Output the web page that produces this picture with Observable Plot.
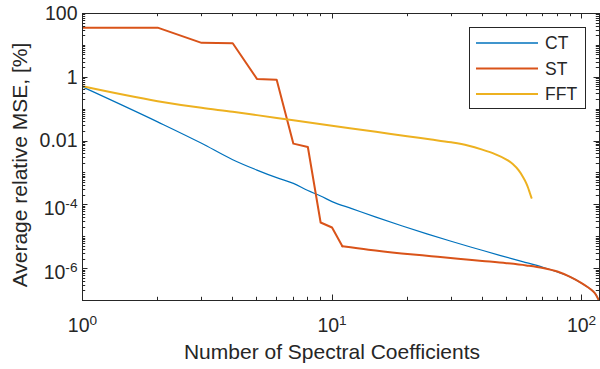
<!DOCTYPE html>
<html><head><meta charset="utf-8">
<script src="https://cdn.jsdelivr.net/npm/d3@7"></script>
<script src="https://cdn.jsdelivr.net/npm/@observablehq/plot@0.6"></script>
<style>html,body{margin:0;padding:0;background:#fff;}</style>
</head><body><div id="chart"></div>
<script>
// ---- data ----
const seriesNames = ["CT", "ST", "FFT"];
const seriesColors = ["#0072BD", "#D95319", "#EDB120"];

const ctX = [1,2,3,4,5,6,7,8,9,10,12,15,19,24,30,38,47,58,70,80,90,100,106,110,114,117];
const ctY = [0.50,0.040,0.0085,0.0026,0.00123,7.1e-4,4.7e-4,2.8e-4,1.9e-4,1.26e-4,7.6e-5,4.1e-5,2.2e-5,1.23e-5,7.2e-6,4.2e-6,2.6e-6,1.66e-6,1.10e-6,7.8e-7,5.5e-7,3.5e-7,2.6e-7,2.1e-7,1.55e-7,1.05e-7];

// ST: stepwise part (linear joins) and smooth tail
const stX = [1,2,3,4,5,6,7,8,9,10,11,14,19,25,32,40,50,60,70,80,90,100,106,110,114,117];
const stY = [36,36,12,11.7,0.89,0.83,0.0083,0.0065,2.8e-5,1.95e-5,5.0e-6,3.9e-6,3.0e-6,2.45e-6,2.04e-6,1.74e-6,1.48e-6,1.26e-6,1.05e-6,8.1e-7,5.5e-7,3.5e-7,2.6e-7,2.1e-7,1.55e-7,1.05e-7];

const fftX = [1,2,3,4,5,7,10,15,20,25,30,35,40,45,50,53,56,58,60,61,62,63];
const fftY = [0.52,0.178,0.11,0.083,0.065,0.0447,0.0302,0.0195,0.0141,0.0112,0.00912,0.00724,0.00537,0.00389,0.00263,0.00191,0.00120,7.9e-4,4.8e-4,3.5e-4,2.4e-4,1.66e-4];

const xTicks = [1, 10, 100];
const xTickLabels = ["10^0", "10^1", "10^2"];
const xMinorTicks = [2,3,4,5,6,7,8,9,20,30,40,50,60,70,80,90];
const yTicks = [100, 1, 0.01, 1e-4, 1e-6];
const yTickLabels = ["100", "1", "0.01", "10^-4", "10^-6"];
const yMinorTicks = [];
for (let k = -7; k <= 1; k++) for (let m = 1; m <= 9; m++) {
  const v = +(m + "e" + k);
  if (v >= 1e-7 && v < 100 && !yTicks.includes(v)) yMinorTicks.push(v);
}
const xLabel = "Number of Spectral Coefficients";
const yLabel = "Average relative MSE, [%]";

const toRows = (xs, ys) => xs.map((x, i) => ({x, y: ys[i]}));
const ctRows = toRows(ctX, ctY);
const stRows = toRows(stX, stY);
const fftRows = toRows(fftX, fftY);

const ink = "#262626";
const font = "'Liberation Sans', Arial, Helvetica, sans-serif";

const W = 600, H = 369, mL = 82, mR = 1, mT = 13, mB = 69;

const chart = Plot.plot({
  width: W, height: H,
  marginLeft: mL, marginRight: mR, marginTop: mT, marginBottom: mB,
  style: {fontFamily: font, fontSize: "19.5px", color: ink, background: "#fff", overflow: "visible"},
  x: {type: "log", domain: [1, 118]},
  y: {type: "log", domain: [1e-7, 100]},
  marks: [
    Plot.axisX({ticks: xTicks, tickFormat: d => xTickLabels[xTicks.indexOf(d)], tickSize: 0, tickPadding: 18, label: null, anchor: "bottom"}),
    Plot.axisY({ticks: yTicks, tickFormat: d => yTickLabels[yTicks.indexOf(d)], tickSize: 0, tickPadding: 5, label: null, anchor: "left"}),
    Plot.line(ctRows, {x: "x", y: "y", stroke: seriesColors[0], strokeWidth: 1.2, curve: "monotone-x", clip: true}),
    Plot.line(stRows.filter(d => d.x <= 11), {x: "x", y: "y", stroke: seriesColors[1], strokeWidth: 2, clip: true}),
    Plot.line(stRows.filter(d => d.x >= 11), {x: "x", y: "y", stroke: seriesColors[1], strokeWidth: 2, curve: "monotone-x", clip: true}),
    Plot.line(fftRows, {x: "x", y: "y", stroke: seriesColors[2], strokeWidth: 2, curve: "monotone-x", clip: true}),
    Plot.frame({stroke: ink, strokeWidth: 1})
  ]
});

const svg = d3.select(chart);
const sx = chart.scale("x"), sy = chart.scale("y");
const x0 = mL, x1 = W - mR, y0 = mT, y1 = H - mB;

// superscripts in tick labels
svg.selectAll('g[aria-label="x-axis tick label"] text, g[aria-label="y-axis tick label"] text').each(function() {
  const s = this.textContent; const k = s.indexOf("^");
  if (k < 0) return;
  const isY = this.parentNode.getAttribute("aria-label").startsWith("y");
  const t = d3.select(this); t.text(null);
  t.append("tspan").attr("dy", isY ? "0.22em" : null).text(s.slice(0, k));
  t.append("tspan").attr("dy", "-0.55em").attr("font-size", "70%").text(s.slice(k + 1));
});

// inward ticks on all four sides (box on)
const tg = svg.append("g").attr("stroke", ink).attr("stroke-width", 1);
const tickX = (vals, len) => vals.forEach(v => {
  const px = Math.round(sx.apply(v)) + 0.5;
  tg.append("line").attr("x1", px).attr("x2", px).attr("y1", y1).attr("y2", y1 - len);
  tg.append("line").attr("x1", px).attr("x2", px).attr("y1", y0).attr("y2", y0 + len);
});
const tickY = (vals, len) => vals.forEach(v => {
  const py = Math.round(sy.apply(v)) + 0.5;
  tg.append("line").attr("y1", py).attr("y2", py).attr("x1", x0).attr("x2", x0 + len);
  tg.append("line").attr("y1", py).attr("y2", py).attr("x1", x1).attr("x2", x1 - len);
});
tickX(xTicks, 5.5); tickX(xMinorTicks, 3.2);
tickY(yTicks, 5.5); tickY(yMinorTicks, 3.2);

// axis labels
svg.append("text").attr("x", 332).attr("y", 359).attr("text-anchor", "middle")
  .attr("fill", ink).style("font-size", "21px").text(xLabel);
svg.append("text").attr("transform", "translate(27,165) rotate(-90)").attr("text-anchor", "middle")
  .attr("fill", ink).style("font-size", "21px").text(yLabel);

// legend
const lg = svg.append("g");
lg.append("rect").attr("x", 469.5).attr("y", 27.5).attr("width", 116).attr("height", 81)
  .attr("fill", "#fff").attr("stroke", ink).attr("stroke-width", 1);
seriesNames.forEach((name, i) => {
  const yy = 43 + i * 25.5;
  lg.append("line").attr("x1", 476).attr("x2", 538).attr("y1", yy).attr("y2", yy)
    .attr("stroke", seriesColors[i]).attr("stroke-width", i === 0 ? 1.5 : 2);
  lg.append("text").attr("x", 545).attr("y", yy).attr("dy", "0.36em").attr("fill", ink)
    .attr("text-anchor", "start").style("font-size", "17.5px").text(name);
});

document.getElementById("chart").appendChild(chart);
</script>
</body></html>
